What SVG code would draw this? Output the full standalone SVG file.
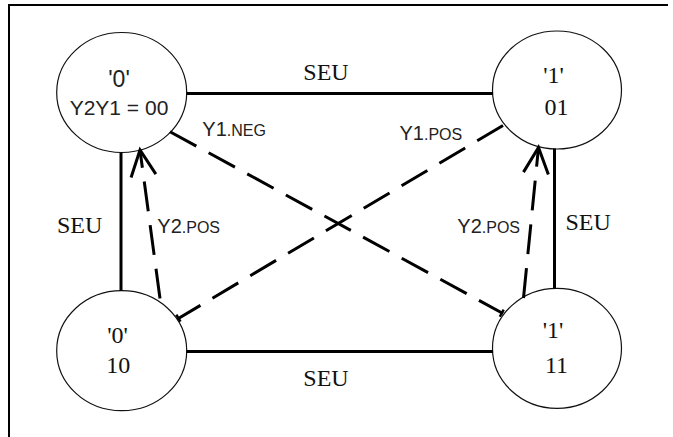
<svg xmlns="http://www.w3.org/2000/svg" width="673" height="437" viewBox="0 0 673 437">
<style>
.node ellipse{fill:#fff;stroke:#111;stroke-width:1.2}
.serif{font-family:"Liberation Serif","Times New Roman",serif;font-size:24px;fill:#111}
.sans{font-family:"Liberation Sans",Arial,sans-serif;fill:#222}
.solid{stroke:#000;stroke-width:3;fill:none}
.dash{stroke:#000;stroke-width:3;fill:none;stroke-dasharray:30 14}
.lbl{font-family:"Liberation Sans",Arial,sans-serif;font-size:20px;fill:#222}
.sub{font-size:16px}
</style>
<defs>
<marker id="open" markerUnits="userSpaceOnUse" markerWidth="32" markerHeight="32" viewBox="-2 -2 32 30" refX="26" refY="12.5" orient="auto">
<path d="M0,0 L26,12.5 L0,25" fill="none" stroke="#000" stroke-width="3"/>
</marker>
<marker id="tick" markerUnits="userSpaceOnUse" markerWidth="10" markerHeight="10" viewBox="-3 -4 8 8" refX="0" refY="0" orient="auto">
<path d="M-1,-3 L-1,3.5" fill="none" stroke="#000" stroke-width="2"/>
</marker>
</defs>
<rect width="673" height="437" fill="#fff"/>
<g id="frame">
<path d="M8,5 H668 M9,4 V437" stroke="#000" stroke-width="2" fill="none"/>
</g>
<g id="n00" class="node">
<ellipse cx="121.7" cy="92.5" rx="65" ry="60"/>
<text class="sans" x="119" y="87" font-size="23" text-anchor="middle">'0'</text>
<text class="sans" x="119" y="115" font-size="21" text-anchor="middle">Y2Y1 = 00</text>
</g>
<g id="n01" class="node">
<ellipse cx="557" cy="90" rx="64.5" ry="59"/>
<text class="serif" x="553.5" y="83" text-anchor="middle">'1'</text>
<text class="serif" x="556.5" y="115" text-anchor="middle">01</text>
</g>
<g id="n10" class="node">
<ellipse cx="121.7" cy="350.7" rx="65" ry="60"/>
<text class="serif" x="117.5" y="343" text-anchor="middle">'0'</text>
<text class="serif" x="118.3" y="373" text-anchor="middle">10</text>
</g>
<g id="n11" class="node">
<ellipse cx="557" cy="348.3" rx="64.5" ry="60"/>
<text class="serif" x="553" y="338" text-anchor="middle">'1'</text>
<text class="serif" x="556.5" y="373" text-anchor="middle">11</text>
</g>
<g id="connectors">
<line class="solid" x1="186.5" y1="93.5" x2="493" y2="93.5"/>
<line class="solid" x1="186.5" y1="351.5" x2="493" y2="351.5"/>
<line class="solid" x1="121" y1="152.5" x2="121" y2="290.7"/>
<line class="solid" x1="554.5" y1="148.5" x2="554.5" y2="288.5"/>
<line class="dash" x1="170" y1="131.7" x2="503" y2="313.5" marker-end="url(#tick)"/>
<line class="dash" x1="503" y1="125.5" x2="177.5" y2="319" marker-end="url(#tick)"/>
<line class="dash" x1="160" y1="298.5" x2="140" y2="150" marker-end="url(#open)"/>
<line class="dash" x1="523.5" y1="298" x2="538.5" y2="147.5" marker-end="url(#open)"/>
<text class="serif" x="326" y="80" text-anchor="middle">SEU</text>
<text class="serif" x="326" y="386" text-anchor="middle">SEU</text>
<text class="serif" x="57" y="232.5">SEU</text>
<text class="serif" x="565.5" y="229.5">SEU</text>
<text class="lbl" x="202.3" y="136">Y1<tspan class="sub">.NEG</tspan></text>
<text class="lbl" x="399.5" y="140">Y1<tspan class="sub">.POS</tspan></text>
<text class="lbl" x="157.3" y="233">Y2<tspan class="sub">.POS</tspan></text>
<text class="lbl" x="457.3" y="233">Y2<tspan class="sub">.POS</tspan></text>
</g>
</svg>
